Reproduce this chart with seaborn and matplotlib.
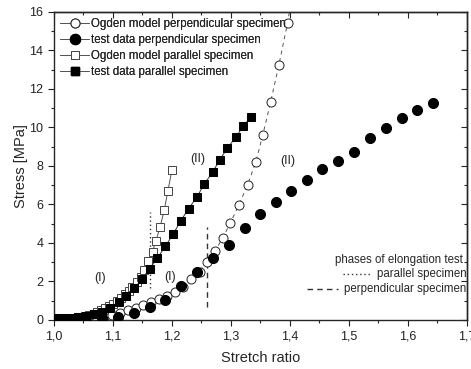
import numpy as np
import matplotlib
matplotlib.use('Agg')
import matplotlib.pyplot as plt
import matplotlib.ticker as ticker
from matplotlib.lines import Line2D
import seaborn as sns

# --- data ---
# Ogden model, perpendicular specimen (open circles)
ogden_perp_x = [1.005, 1.018, 1.032, 1.045, 1.058, 1.072, 1.085, 1.099, 1.112, 1.125,
                1.139, 1.151, 1.165, 1.178, 1.191, 1.205, 1.218, 1.232, 1.247, 1.259,
                1.273, 1.286, 1.299, 1.313, 1.328, 1.342, 1.354, 1.367, 1.381, 1.396, 1.409]
ogden_perp_y = [0.0, 0.01, 0.02, 0.04, 0.07, 0.11, 0.17, 0.26, 0.38, 0.52,
                0.64, 0.78, 0.92, 1.09, 1.26, 1.47, 1.73, 2.11, 2.51, 3.0,
                3.58, 4.26, 5.05, 5.95, 7.01, 8.2, 9.62, 11.3, 13.22, 15.45, 17.9]

# test data, perpendicular specimen (filled circles)
test_perp_x = [1.001, 1.028, 1.055, 1.082, 1.109, 1.136, 1.163, 1.189, 1.216, 1.243,
               1.269, 1.296, 1.323, 1.349, 1.376, 1.402, 1.429, 1.455, 1.482, 1.509,
               1.536, 1.563, 1.589, 1.616, 1.642]
test_perp_y = [0.0, 0.02, 0.04, 0.08, 0.14, 0.35, 0.69, 1.02, 1.75, 2.49,
               3.24, 3.9, 4.8, 5.5, 6.13, 6.7, 7.28, 7.83, 8.26, 8.74,
               9.44, 9.96, 10.48, 10.91, 11.29]

# Ogden model, parallel specimen (open squares)
ogden_par_x = [1.000, 1.007, 1.013, 1.020, 1.027, 1.033, 1.040, 1.047, 1.053, 1.060,
               1.067, 1.073, 1.080, 1.087, 1.093, 1.100, 1.107, 1.113, 1.120, 1.127,
               1.133, 1.140, 1.147, 1.153, 1.160, 1.167, 1.173, 1.180, 1.187, 1.193, 1.200]
ogden_par_y = [0.0, 0.01, 0.03, 0.05, 0.07, 0.1, 0.13, 0.17, 0.21, 0.26,
               0.32, 0.4, 0.49, 0.6, 0.72, 0.84, 0.99, 1.15, 1.33, 1.52,
               1.73, 1.98, 2.25, 2.6, 3.05, 3.55, 4.12, 4.85, 5.72, 6.7, 7.8]

# test data, parallel specimen (filled squares)
test_par_x = [1.003, 1.016, 1.028, 1.041, 1.054, 1.068, 1.082, 1.095, 1.110, 1.122,
              1.136, 1.149, 1.162, 1.175, 1.189, 1.202, 1.215, 1.228, 1.242, 1.255,
              1.269, 1.281, 1.294, 1.308, 1.321, 1.334]
test_par_y = [0.09, 0.09, 0.12, 0.17, 0.22, 0.31, 0.43, 0.64, 0.92, 1.25,
              1.65, 2.11, 2.67, 3.2, 3.84, 4.46, 5.16, 5.77, 6.38, 7.07,
              7.69, 8.32, 8.93, 9.49, 10.08, 10.56]

# phase boundaries
phase_par_x = 1.163
phase_par_y = [1.65, 5.63]
phase_perp_x = 1.26
phase_perp_y = [0.69, 4.85]

labels = ['Ogden model perpendicular specimen', 'test data perpendicular specimen',
          'Ogden model parallel specimen', 'test data parallel specimen']

# --- style ---
sns.set_style('ticks')
plt.rcParams['font.family'] = ['Liberation Sans', 'DejaVu Sans']
plt.rcParams['axes.linewidth'] = 1.0

fig = plt.figure(figsize=(4.71, 3.69), dpi=100)
ax = fig.add_axes([0.1146, 0.133, 0.8769, 0.8345])

line_col = '#555555'

sns.lineplot(x=ogden_perp_x, y=ogden_perp_y, ax=ax, sort=False, color=line_col,
             linewidth=0.7, dashes=False, linestyle=(0, (4, 4)), marker='o',
             markersize=6.5, markerfacecolor='white', markeredgecolor='#222222',
             markeredgewidth=0.7, zorder=2)
sns.lineplot(x=test_perp_x, y=test_perp_y, ax=ax, sort=False, linestyle='none',
             marker='o', markersize=7.2, color='black', markeredgecolor='black',
             zorder=3)
sns.lineplot(x=ogden_par_x, y=ogden_par_y, ax=ax, sort=False, color=line_col,
             linewidth=0.7, marker='s', markersize=6, markerfacecolor='white',
             markeredgecolor='#444444', markeredgewidth=0.7, zorder=4)
sns.lineplot(x=test_par_x, y=test_par_y, ax=ax, sort=False, color='#333333',
             linewidth=0.7, marker='s', markersize=6.3, markerfacecolor='black',
             markeredgecolor='black', zorder=5)

ax.plot([phase_par_x, phase_par_x], phase_par_y, color='#333333', linestyle=(0, (1, 2)),
        linewidth=1.0, zorder=1)
ax.plot([phase_perp_x, phase_perp_x], phase_perp_y, color='#333333', linestyle=(0, (4, 3)),
        linewidth=1.0, zorder=1)

# region labels
ax.text(1.078, 2.2, '(I)', fontsize=9, ha='center', va='center')
ax.text(1.197, 2.25, '(I)', fontsize=9, ha='center', va='center')
ax.text(1.243, 8.35, '(II)', fontsize=9, ha='center', va='center')
ax.text(1.397, 8.25, '(II)', fontsize=9, ha='center', va='center')

ax.set_xlim(1.0, 1.7)
ax.set_ylim(0, 16)
ax.xaxis.set_major_locator(ticker.MultipleLocator(0.1))
ax.xaxis.set_minor_locator(ticker.MultipleLocator(0.05))
ax.yaxis.set_major_locator(ticker.MultipleLocator(2))
ax.yaxis.set_minor_locator(ticker.MultipleLocator(1))
ax.xaxis.set_major_formatter(ticker.FuncFormatter(lambda v, p: f'{v:.1f}'.replace('.', ',')))
ax.tick_params(which='major', direction='out', length=4, width=0.8, labelsize=9,
               colors='#222222')
ax.tick_params(which='minor', direction='out', length=2.5, width=0.8)

top = ax.secondary_xaxis('top')
top.xaxis.set_major_locator(ticker.MultipleLocator(0.1))
top.xaxis.set_minor_locator(ticker.MultipleLocator(0.05))
top.tick_params(which='major', direction='in', length=4, width=0.8, labeltop=False)
top.tick_params(which='minor', direction='in', length=2.5, width=0.8)
right = ax.secondary_yaxis('right')
right.yaxis.set_major_locator(ticker.MultipleLocator(2))
right.yaxis.set_minor_locator(ticker.MultipleLocator(1))
right.tick_params(which='major', direction='in', length=4, width=0.8, labelright=False)
right.tick_params(which='minor', direction='in', length=2.5, width=0.8)

ax.set_xlabel('Stretch ratio', fontsize=10.5, labelpad=6)
ax.set_ylabel('Stress [MPa]', fontsize=10.5, labelpad=1)

handles = [
    Line2D([], [], color=line_col, linewidth=0.7, marker='o', markersize=6.5,
           markerfacecolor='white', markeredgecolor='#222222', markeredgewidth=0.7),
    Line2D([], [], color=line_col, linewidth=0.7, marker='o', markersize=7.2,
           markerfacecolor='black', markeredgecolor='black'),
    Line2D([], [], color=line_col, linewidth=0.7, marker='s', markersize=6,
           markerfacecolor='white', markeredgecolor='#444444', markeredgewidth=0.7),
    Line2D([], [], color=line_col, linewidth=0.7, marker='s', markersize=6.3,
           markerfacecolor='black', markeredgecolor='black'),
]
leg = ax.legend(handles, labels, loc='upper left', bbox_to_anchor=(0.0, 1.0),
                frameon=False, fontsize=8.3, handlelength=2.5, handletextpad=0.15,
                labelspacing=0.35, borderaxespad=0.3, borderpad=0.25, numpoints=1)
ax.add_artist(leg)

# phases legend, right aligned
ax.text(0.99, 0.196, 'phases of elongation test', transform=ax.transAxes,
        fontsize=8.3, ha='right', va='center')
ax.text(0.998, 0.148, 'parallel specimen', transform=ax.transAxes,
        fontsize=8.3, ha='right', va='center')
ax.text(0.998, 0.100, 'perpendicular specimen', transform=ax.transAxes,
        fontsize=8.3, ha='right', va='center')
ax.plot([0.700, 0.768], [0.148, 0.148], transform=ax.transAxes, color='#333333',
        linestyle=(0, (1, 2)), linewidth=1.0)
ax.plot([0.612, 0.688], [0.100, 0.100], transform=ax.transAxes, color='#333333',
        linestyle=(0, (4, 3)), linewidth=1.0)

fig.savefig('out.png', dpi=100)
